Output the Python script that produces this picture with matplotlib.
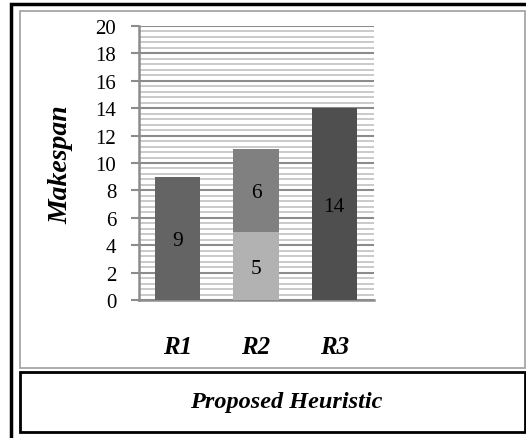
import matplotlib
matplotlib.use("Agg")
import matplotlib.pyplot as plt
from matplotlib.patches import Rectangle
from matplotlib.ticker import MultipleLocator, FixedLocator

# Chart data
categories = ["R1", "R2", "R3"]
lower_values = [9, 5, 14]
upper_values = [0, 6, 0]
lower_colors = ["#646464", "#b2b2b2", "#4f4f4f"]
upper_colors = ["#808080", "#808080", "#808080"]
y_ticks = list(range(0, 21, 2))
y_label = "Makespan"
series_name = "Proposed Heuristic"

W, H = 526, 439
plt.rcParams['font.family'] = ['Liberation Serif', 'DejaVu Serif']
fig = plt.figure(figsize=(W / 100, H / 100), dpi=100)


def px_box(x0, y0, x1, y1, **kw):
    """Outline rectangle given in pixel coordinates measured from the top-left."""
    fig.patches.append(Rectangle((x0 / W, 1 - y1 / H), (x1 - x0) / W, (y1 - y0) / H,
                                 transform=fig.transFigure, fill=False, **kw))


# Frames around the chart and the series caption
px_box(11, 5, 560, 470, lw=2.5, ec="black")
px_box(20, 12, 525, 369, lw=1.3, ec="#a6a6a6")
px_box(20, 373, 525, 433, lw=2.0, ec="black")

ax = fig.add_axes([138.5 / W, 1 - 301 / H, 235 / W, 274 / H])
x = list(range(len(categories)))
width = 0.575
ax.bar(x, lower_values, width, color=lower_colors, zorder=3)
ax.bar(x, upper_values, width, bottom=lower_values, color=upper_colors, zorder=3)

# Value labels centred in each segment
for i in x:
    ax.text(i, lower_values[i] / 2, str(lower_values[i]), ha="center",
            va="center_baseline", fontsize=15.5, color="black", zorder=4)
    if upper_values[i]:
        ax.text(i, lower_values[i] + upper_values[i] / 2, str(upper_values[i]),
                ha="center", va="center_baseline", fontsize=15.5, color="black", zorder=4)

ax.set_xlim(-0.5, len(categories) - 0.5)
ax.set_ylim(0, 20)
ax.yaxis.set_major_locator(FixedLocator(y_ticks))
ax.yaxis.set_minor_locator(MultipleLocator(0.4))
ax.set_axisbelow(True)
ax.grid(axis="y", which="major", color="#8c8c8c", lw=1.5, zorder=0)
ax.grid(axis="y", which="minor", color="#cacaca", lw=1.4, zorder=0)

ax.set_xticks(x)
ax.set_xticklabels(categories, fontsize=18, fontweight="bold", fontstyle="italic")
ax.tick_params(axis="x", length=0, pad=25)
ax.tick_params(axis="y", which="major", length=6, width=1.5, color="#8c8c8c",
               labelsize=15, pad=10)
ax.tick_params(axis="y", which="minor", length=0)

for side in ("top", "right"):
    ax.spines[side].set_visible(False)
for side in ("left", "bottom"):
    ax.spines[side].set_color("#8c8c8c")
    ax.spines[side].set_linewidth(1.8)

fig.text(61 / W, 1 - 165 / H, y_label, rotation=90, ha="center", va="center",
         fontsize=20, fontweight="bold", fontstyle="italic")
fig.text(286 / W, 1 - 403 / H, series_name, ha="center", va="center",
         fontsize=17.5, fontweight="bold", fontstyle="italic")

fig.savefig("out.png", dpi=100)
